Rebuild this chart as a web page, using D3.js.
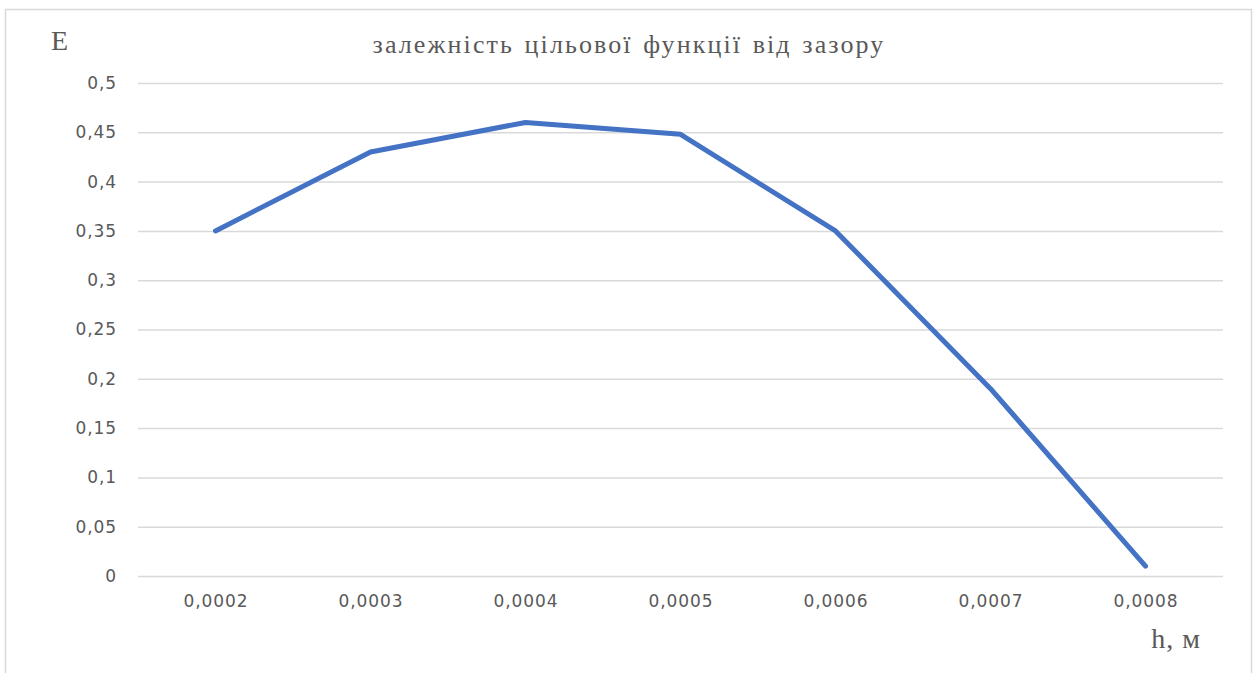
<!DOCTYPE html>
<html>
<head>
<meta charset="utf-8">
<script src="https://cdn.jsdelivr.net/npm/d3@7"></script>
<style>
  body { margin: 0; background: #fff; }
  svg { display: block; }
</style>
</head>
<body>
<svg id="grafico"></svg>
<script>
const WIDTH = 1257,
    HEIGHT = 673;

const margin = {
    top: 83,
    bottom: 97,
    left: 138,
    right: 34
};

// datos
const categorias = ["0,0002", "0,0003", "0,0004", "0,0005", "0,0006", "0,0007", "0,0008"];
const valores = [0.35, 0.43, 0.46, 0.448, 0.35, 0.19, 0.01];
const ticksY = [0, 0.05, 0.1, 0.15, 0.2, 0.25, 0.3, 0.35, 0.4, 0.45, 0.5];

const titulo = "залежність цільової функції від зазору";
const etiquetaY = "E";
const etiquetaX = "h, м";

const datos = categorias.map((c, i) => ({ h: c, e: valores[i] }));

const svg = d3.select("#grafico")
    .attr("width", WIDTH)
    .attr("height", HEIGHT);

// marco
svg.append("rect")
    .attr("x", 5.5)
    .attr("y", 9.5)
    .attr("width", 1246)
    .attr("height", 700)
    .attr("fill", "none")
    .attr("stroke", "#d9d9d9")
    .attr("stroke-width", 1.5);

const anchoPlot = WIDTH - margin.left - margin.right;
const altoPlot = HEIGHT - margin.top - margin.bottom;

const escalaX = d3.scalePoint()
    .domain(categorias)
    .range([0, anchoPlot])
    .padding(0.5);

const escalaY = d3.scaleLinear()
    .domain([0, 0.5])
    .range([altoPlot, 0]);

const contenedor = svg.append("g")
    .attr("transform", `translate(${margin.left} ${margin.top})`);

const estiloTicks = g => g.selectAll(".tick text")
    .attr("fill", "#595959")
    .attr("font-family", "'DejaVu Sans', sans-serif")
    .attr("font-size", 17)
    .attr("letter-spacing", 0.9);

// lineas de cuadricula + etiquetas eje Y
const ejeY = d3.axisLeft(escalaY)
    .tickValues(ticksY)
    .tickSize(-anchoPlot)
    .tickPadding(21)
    .tickFormat(d => String(d).replace(".", ","));

contenedor.append("g")
    .call(ejeY)
    .call(g => g.select(".domain").remove())
    .call(g => g.selectAll(".tick line")
        .attr("stroke", "#d9d9d9")
        .attr("stroke-width", 1.5))
    .call(estiloTicks);

// eje X
const ejeX = d3.axisBottom(escalaX)
    .tickSize(0)
    .tickPadding(19);

contenedor.append("g")
    .attr("transform", `translate(0 ${altoPlot})`)
    .call(ejeX)
    .call(g => g.select(".domain").remove())
    .call(estiloTicks);

// linea de datos
const linea = d3.line()
    .x(d => escalaX(d.h))
    .y(d => escalaY(d.e));

contenedor.append("path")
    .datum(datos)
    .attr("d", linea)
    .attr("fill", "none")
    .attr("stroke", "#4472c4")
    .attr("stroke-width", 5)
    .attr("stroke-linejoin", "round")
    .attr("stroke-linecap", "round");

// textos
svg.append("text")
    .attr("x", 629)
    .attr("y", 53)
    .attr("text-anchor", "middle")
    .attr("fill", "#595959")
    .attr("font-family", "'Liberation Serif', serif")
    .attr("font-size", 26)
    .attr("letter-spacing", 2.1)
    .attr("word-spacing", 2)
    .text(titulo);

svg.append("text")
    .attr("x", 51)
    .attr("y", 50)
    .attr("fill", "#595959")
    .attr("font-family", "'Liberation Serif', serif")
    .attr("font-size", 28)
    .attr("letter-spacing", 1.5)
    .text(etiquetaY);

svg.append("text")
    .attr("x", 1201)
    .attr("y", 648)
    .attr("text-anchor", "end")
    .attr("fill", "#595959")
    .attr("font-family", "'Liberation Serif', serif")
    .attr("font-size", 28)
    .attr("letter-spacing", 1)
    .text(etiquetaX);
</script>
</body>
</html>
